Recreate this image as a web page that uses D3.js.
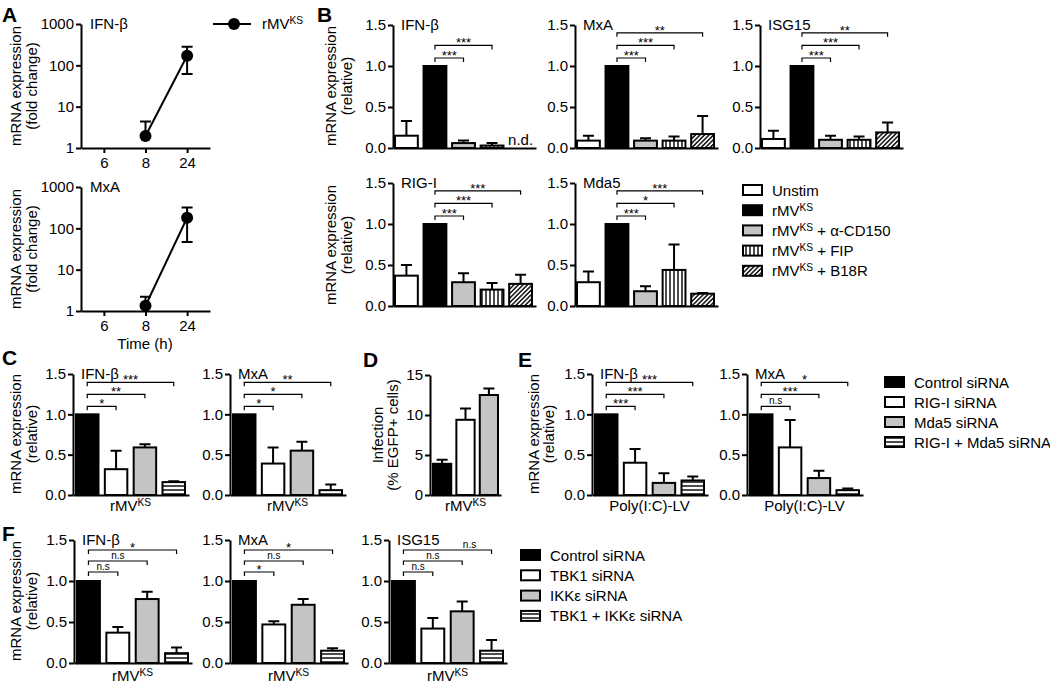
<!DOCTYPE html>
<html>
<head>
<meta charset="utf-8">
<script src="https://cdn.jsdelivr.net/npm/d3@7"></script>
<style>
body { margin: 0; background: #fff; }
text { font-family: "Liberation Sans", Arial, Helvetica, sans-serif; fill: #000; }
</style>
</head>
<body>
<svg width="1050" height="685"></svg>
<script>
// ---- data ----
var timePoints = ["6", "8", "24"];
var aIFNb = [null, 1.95, 170], aIFNbHi = [null, 4.4, 280], aIFNbLo = [null, null, 62];
var aMxA = [null, 1.34, 180], aMxAHi = [null, 2.2, 320], aMxALo = [null, null, 47];
var logTicks = [1, 10, 100, 1000];

var bGroups = ["Unstim", "rMVKS", "rMVKS + α-CD150", "rMVKS + FIP", "rMVKS + B18R"];
var bIFNb = [0.15, 1.0, 0.06, 0.03, null], bIFNbErr = [0.33, 0, 0.09, 0.06, null], bIFNbSig = ["***", "***"];
var bMxA = [0.09, 1.0, 0.09, 0.09, 0.17], bMxAErr = [0.15, 0, 0.12, 0.14, 0.39], bMxASig = ["***", "***", "**"];
var bISG15 = [0.11, 1.0, 0.10, 0.10, 0.19], bISG15Err = [0.21, 0, 0.15, 0.14, 0.31], bISG15Sig = ["***", "***", "**"];
var bRIGI = [0.37, 1.0, 0.29, 0.20, 0.27], bRIGIErr = [0.50, 0, 0.40, 0.28, 0.38], bRIGISig = ["***", "***", "***"];
var bMda5 = [0.29, 1.0, 0.18, 0.44, 0.15], bMda5Err = [0.42, 0, 0.24, 0.75, 0.16], bMda5Sig = ["***", "*", "***"];

var ceGroups = ["Control siRNA", "RIG-I siRNA", "Mda5 siRNA", "RIG-I + Mda5 siRNA"];
var cIFNb = [1.0, 0.32, 0.59, 0.16], cIFNbErr = [0, 0.55, 0.63, 0.17], cIFNbSig = ["*", "**", "***"];
var cMxA = [1.0, 0.39, 0.55, 0.06], cMxAErr = [0, 0.59, 0.66, 0.13], cMxASig = ["*", "*", "**"];
var dInfection = [3.9, 9.4, 12.5], dInfectionErr = [4.4, 10.8, 13.3];
var eIFNb = [1.0, 0.40, 0.15, 0.18], eIFNbErr = [0, 0.57, 0.27, 0.23], eIFNbSig = ["***", "***", "***"];
var eMxA = [1.0, 0.59, 0.21, 0.06], eMxAErr = [0, 0.93, 0.30, 0.08], eMxASig = ["n.s", "***", "*"];

var fGroups = ["Control siRNA", "TBK1 siRNA", "IKKε siRNA", "TBK1 + IKKε siRNA"];
var fIFNb = [1.0, 0.37, 0.78, 0.12], fIFNbErr = [0, 0.44, 0.87, 0.19], fIFNbSig = ["n.s", "n.s", "*"];
var fMxA = [1.0, 0.47, 0.71, 0.15], fMxAErr = [0, 0.51, 0.78, 0.18], fMxASig = ["*", "n.s", "*"];
var fISG15 = [1.0, 0.42, 0.63, 0.15], fISG15Err = [0, 0.55, 0.75, 0.28], fISG15Sig = ["n.s", "n.s", "n.s"];

var relTicks = [0, 0.5, 1.0, 1.5], infTicks = [0, 5, 10, 15];

// ---- styles ----
var GRAY = "#c4c4c4";
var bFills = ["#fff", "#000", GRAY, "url(#vert)", "url(#diag)"];
var ceFills = ["#000", "#fff", GRAY, "url(#horiz)"];

var svg = d3.select("svg");
var defs = svg.append("defs");
function stripe(id, w, h, x1, y1, x2, y2, rot) {
  var p = defs.append("pattern").attr("id", id).attr("patternUnits", "userSpaceOnUse")
    .attr("width", w).attr("height", h);
  if (rot) p.attr("patternTransform", "rotate(" + rot + ")");
  p.append("rect").attr("width", w).attr("height", h).attr("fill", "#fff");
  p.append("line").attr("x1", x1).attr("y1", y1).attr("x2", x2).attr("y2", y2)
    .attr("stroke", "#000").attr("stroke-width", 1.4);
}
stripe("vert", 4, 4, 2, 0, 2, 4);
stripe("horiz", 4, 4, 0, 2, 4, 2);
stripe("diag", 3.2, 3.2, 1.6, 0, 1.6, 3.2, 45);

// text with "KS" as superscript
function rich(t, str, fs) {
  var parts = str.split("KS");
  t.append("tspan").text(parts[0]);
  if (parts.length > 1) {
    t.append("tspan").attr("font-size", fs * 0.68).attr("dy", -fs * 0.33).text("KS");
    t.append("tspan").attr("dy", fs * 0.33).text(parts[1]);
  }
  return t;
}

function label(x, y, str, fs, anchor, weight) {
  var t = svg.append("text").attr("x", x).attr("y", y).attr("font-size", fs)
    .attr("text-anchor", anchor || "start");
  if (weight) t.attr("font-weight", weight);
  return rich(t, str, fs);
}

function yTitle(x, yc, str) {
  svg.append("text").attr("transform", "translate(" + x + "," + yc + ") rotate(-90)")
    .attr("text-anchor", "middle").attr("font-size", 15).text(str);
}

function styleAxis(g) {
  g.selectAll(".domain").attr("stroke", "#000").attr("stroke-width", 2);
  g.selectAll(".tick line").attr("stroke", "#000").attr("stroke-width", 2);
  g.selectAll(".tick text").attr("font-size", 15).attr("fill", "#000")
    .attr("font-family", '"Liberation Sans", Arial, sans-serif');
}

// ---- bar panel ----
function barPanel(o) {
  var y = d3.scaleLinear().domain([0, o.max]).range([o.y0, o.yTop]);
  var x = d3.scaleBand().domain(d3.range(o.vals.length))
    .range([o.x0 + o.b0, o.x0 + o.b1]).paddingInner(o.pad);
  var g = svg.append("g");
  var data = o.vals.map(function (v, i) { return { i: i, v: v, e: o.errs[i] }; })
    .filter(function (d) { return d.v != null; });

  g.selectAll("line.err").data(data.filter(function (d) { return d.e > d.v; }))
    .enter().append("path")
    .attr("d", function (d) {
      var cx = x(d.i) + x.bandwidth() / 2;
      return "M" + cx + "," + y(d.v) + "V" + y(d.e) + "M" + (cx - 5.5) + "," + y(d.e) + "H" + (cx + 5.5);
    })
    .attr("stroke", "#000").attr("stroke-width", 2).attr("fill", "none");

  g.selectAll("rect").data(data).enter().append("rect")
    .attr("x", function (d) { return x(d.i); })
    .attr("width", x.bandwidth())
    .attr("y", function (d) { return y(d.v); })
    .attr("height", function (d) { return o.y0 - y(d.v); })
    .attr("fill", function (d) { return o.fills[d.i]; })
    .attr("stroke", "#000").attr("stroke-width", 2);

  var ya = g.append("g").attr("transform", "translate(" + o.x0 + ",0)")
    .call(d3.axisLeft(y).tickValues(o.ticks).tickFormat(o.fmt).tickSize(5).tickPadding(2).tickSizeOuter(0));
  styleAxis(ya);
  var xa = g.append("g").attr("transform", "translate(0," + o.y0 + ")")
    .call(d3.axisBottom(d3.scaleLinear().range([o.x0, o.x0 + o.len])).tickValues([]).tickSizeOuter(0));
  styleAxis(xa);

  if (o.title) label(o.x0 + 8, o.yTop + 5, o.title, 15);
  if (o.xLabel) label((o.x0 + o.b0 + o.x0 + o.b1) / 2, o.y0 + o.xlDy, o.xLabel, 15, "middle");

  // significance brackets
  (o.sig || []).forEach(function (s, k) {
    var from = o.sigFrom, to = o.sigFrom + 1 + k;
    var x1 = x(from) + x.bandwidth() / 2, x2 = x(to) + x.bandwidth() / 2;
    var by = y(1.0) - o.sigOff - k * o.sigStep;
    var dx = o.sigDx ? o.sigDx[k] : 0;
    g.append("path").attr("d", "M" + x1 + "," + (by + 4) + "V" + by + "H" + x2 + "V" + (by + 4))
      .attr("stroke", "#000").attr("stroke-width", 1.2).attr("fill", "none");
    var star = s.charAt(0) == "*";
    g.append("text").attr("x", (x1 + x2) / 2 + dx).attr("y", star ? by + 2 : by - 2)
      .attr("text-anchor", "middle").attr("font-size", star ? 13 : 10).text(s);
  });

  if (o.nd) {
    g.append("text").attr("x", x(o.nd) + x.bandwidth() / 2).attr("y", o.y0 - 3)
      .attr("text-anchor", "middle").attr("font-size", 15).text("n.d.");
  }
}

// ---- log line panel (A) ----
function logPanel(o) {
  var y = d3.scaleLog().domain([1, 1000]).range([o.y0, o.yTop]);
  var x = d3.scalePoint().domain(timePoints).range([81, 210]).padding(0.55);
  var g = svg.append("g");
  var pts = timePoints.map(function (t, i) { return { t: t, v: o.vals[i], hi: o.hi[i], lo: o.lo[i] }; })
    .filter(function (d) { return d.v != null; });

  pts.forEach(function (d) {
    var cx = x(d.t);
    var top = y(d.hi), bot = d.lo ? y(d.lo) : y(d.v);
    var p = "M" + cx + "," + top + "V" + bot + "M" + (cx - 5.5) + "," + top + "H" + (cx + 5.5);
    if (d.lo) p += "M" + (cx - 5.5) + "," + bot + "H" + (cx + 5.5);
    g.append("path").attr("d", p).attr("stroke", "#000").attr("stroke-width", 2).attr("fill", "none");
  });
  g.append("path").datum(pts)
    .attr("d", d3.line().x(function (d) { return x(d.t); }).y(function (d) { return y(d.v); }))
    .attr("stroke", "#000").attr("stroke-width", 2).attr("fill", "none");
  g.selectAll("circle").data(pts).enter().append("circle")
    .attr("cx", function (d) { return x(d.t); }).attr("cy", function (d) { return y(d.v); })
    .attr("r", 6).attr("fill", "#000");

  var ya = g.append("g").attr("transform", "translate(81,0)")
    .call(d3.axisLeft(y).tickValues(logTicks).tickFormat(d3.format("d")).tickSize(5).tickPadding(2).tickSizeOuter(0));
  styleAxis(ya);
  var xa = g.append("g").attr("transform", "translate(0," + o.y0 + ")")
    .call(d3.axisBottom(x).tickSize(5).tickPadding(4).tickSizeOuter(0));
  styleAxis(xa);
  label(90, o.yTop + 5, o.title, 15);
}

// ---- legends ----
function legend(x, y0, step, groups, fills) {
  groups.forEach(function (name, i) {
    var cy = y0 + i * step;
    svg.append("rect").attr("x", x).attr("y", cy - 5).attr("width", 19).attr("height", 10)
      .attr("fill", fills[i]).attr("stroke", "#000").attr("stroke-width", 2);
    label(x + 29, cy + 5.5, name, 15);
  });
}

// ===== Panel A =====
label(2, 22, "A", 21, "start", "bold");
logPanel({ y0: 148, yTop: 24, vals: aIFNb, hi: aIFNbHi, lo: aIFNbLo, title: "IFN-β" });
logPanel({ y0: 311, yTop: 187, vals: aMxA, hi: aMxAHi, lo: aMxALo, title: "MxA" });
yTitle(21, 86, "mRNA expression"); yTitle(37, 86, "(fold change)");
yTitle(21, 249, "mRNA expression"); yTitle(37, 249, "(fold change)");
svg.append("text").attr("x", 145).attr("y", 349).attr("text-anchor", "middle").attr("font-size", 15).text("Time (h)");
svg.append("line").attr("x1", 213).attr("x2", 251).attr("y1", 24).attr("y2", 24).attr("stroke", "#000").attr("stroke-width", 2);
svg.append("circle").attr("cx", 234).attr("cy", 24).attr("r", 6).attr("fill", "#000");
label(262, 29, "rMVKS", 15);

// ===== Panel B =====
label(317, 22, "B", 21, "start", "bold");
var bBase = { max: 1.5, ticks: relTicks, fmt: d3.format(".1f"), fills: bFills, b0: 2, b1: 139, pad: 0.2, len: 143,
  sigFrom: 1, sigOff: 8, sigStep: 12.6 };
function B(extra) { barPanel(Object.assign({}, bBase, extra)); }
B({ x0: 393, y0: 148, yTop: 25, vals: bIFNb, errs: bIFNbErr, sig: bIFNbSig, title: "IFN-β", nd: 4 });
B({ x0: 575, y0: 148, yTop: 25, vals: bMxA, errs: bMxAErr, sig: bMxASig, title: "MxA" });
B({ x0: 760, y0: 148, yTop: 25, vals: bISG15, errs: bISG15Err, sig: bISG15Sig, title: "ISG15" });
B({ x0: 393, y0: 306, yTop: 183, vals: bRIGI, errs: bRIGIErr, sig: bRIGISig, title: "RIG-I" });
B({ x0: 575, y0: 306, yTop: 183, vals: bMda5, errs: bMda5Err, sig: bMda5Sig, title: "Mda5" });
yTitle(336, 86, "mRNA expression"); yTitle(352, 86, "(relative)");
yTitle(336, 245, "mRNA expression"); yTitle(352, 245, "(relative)");
legend(743, 190, 20.2, bGroups, bFills);

// ===== Panel C =====
label(2, 365, "C", 21, "start", "bold");
var ceBase = { max: 1.5, ticks: relTicks, fmt: d3.format(".1f"), fills: ceFills, b0: 3, b1: 112, pad: 0.22, len: 116,
  sigFrom: 0, sigOff: 8, sigStep: 12, y0: 495, yTop: 374, xlDy: 16 };
function CE(extra) { barPanel(Object.assign({}, ceBase, extra)); }
CE({ x0: 73, vals: cIFNb, errs: cIFNbErr, sig: cIFNbSig, title: "IFN-β", xLabel: "rMVKS" });
CE({ x0: 230, vals: cMxA, errs: cMxAErr, sig: cMxASig, title: "MxA", xLabel: "rMVKS" });
yTitle(21, 434, "mRNA expression"); yTitle(37, 434, "(relative)");

// ===== Panel D =====
label(363, 367, "D", 21, "start", "bold");
barPanel({ x0: 430, y0: 495, yTop: 375, max: 15, ticks: infTicks, fmt: d3.format("d"), fills: ceFills,
  b0: 3, b1: 68, pad: 0.22, len: 71, vals: dInfection, errs: dInfectionErr, xLabel: "rMVKS", xlDy: 16 });
yTitle(383, 435, "Infection"); yTitle(398, 435, "(% EGFP+ cells)");

// ===== Panel E =====
label(518, 367, "E", 21, "start", "bold");
CE({ x0: 592, vals: eIFNb, errs: eIFNbErr, sig: eIFNbSig, title: "IFN-β", xLabel: "Poly(I:C)-LV" });
CE({ x0: 747, vals: eMxA, errs: eMxAErr, sig: eMxASig, title: "MxA", xLabel: "Poly(I:C)-LV" });
yTitle(539, 434, "mRNA expression"); yTitle(554, 434, "(relative)");
legend(885, 382, 20, ceGroups, ceFills);

// ===== Panel F =====
label(2, 541, "F", 21, "start", "bold");
var fBase = Object.assign({}, ceBase, { y0: 663, yTop: 540, b0: 3, b1: 114, len: 118, sigOff: 9, sigStep: 11, xlDy: 18 });
function F(extra) { barPanel(Object.assign({}, fBase, extra)); }
F({ x0: 74, vals: fIFNb, errs: fIFNbErr, sig: fIFNbSig, title: "IFN-β", xLabel: "rMVKS" });
F({ x0: 230, vals: fMxA, errs: fMxAErr, sig: fMxASig, title: "MxA", xLabel: "rMVKS" });
F({ x0: 389, vals: fISG15, errs: fISG15Err, sig: fISG15Sig, title: "ISG15", xLabel: "rMVKS", sigDx: [0, 0, 22] });
yTitle(21, 601, "mRNA expression"); yTitle(37, 601, "(relative)");
legend(521, 555, 20.3, fGroups, ceFills);
</script>
</body>
</html>
